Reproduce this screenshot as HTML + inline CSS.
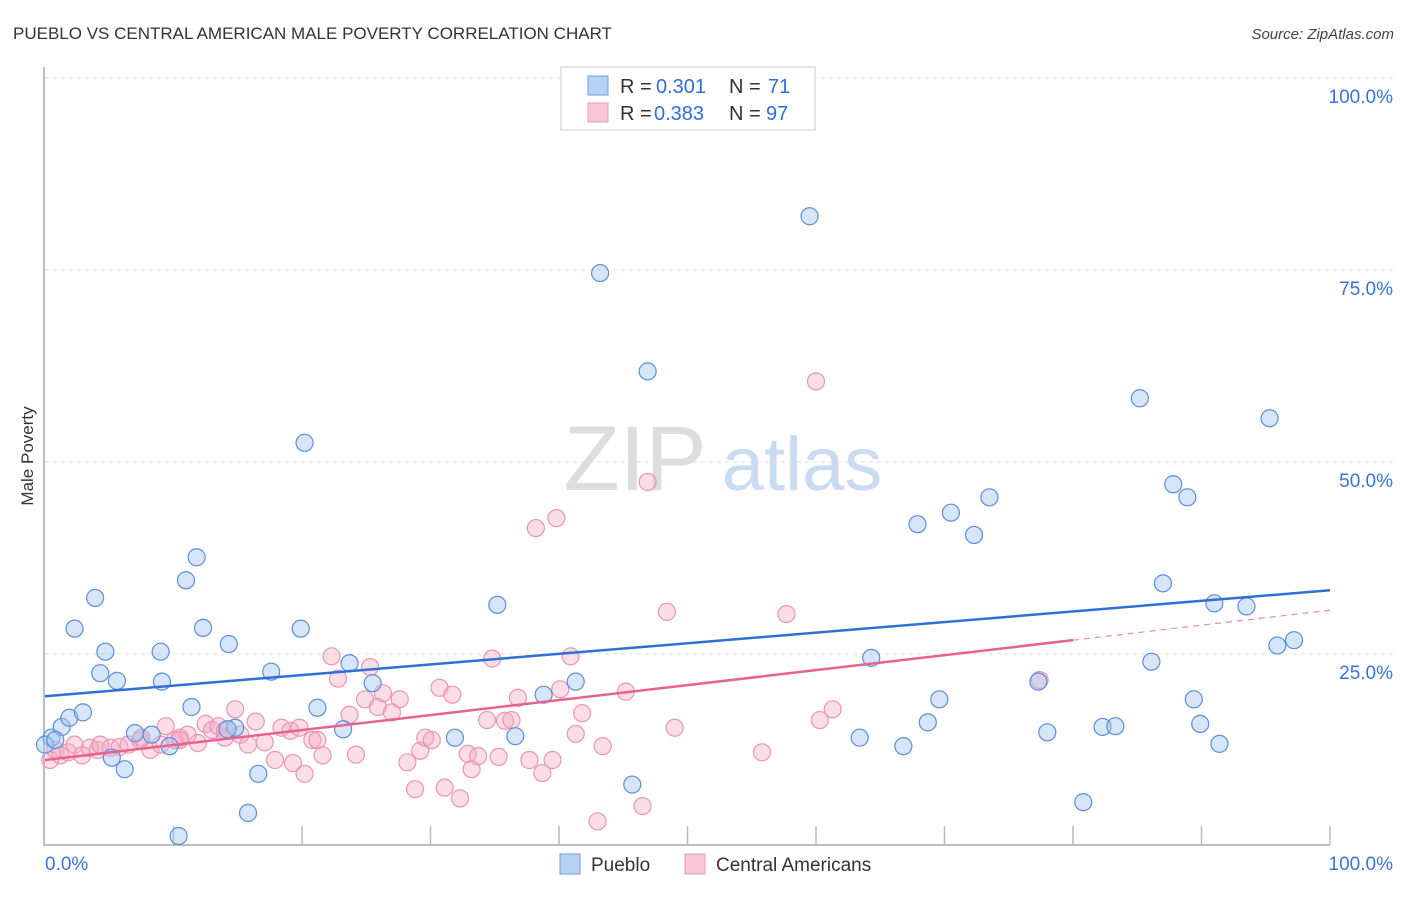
<!DOCTYPE html>
<html><head><meta charset="utf-8"><style>
body{margin:0;background:#fff;font-family:"Liberation Sans",sans-serif;}
svg text{font-family:"Liberation Sans",sans-serif;}
</style></head><body>
<svg id="chart" width="1406" height="892" xmlns="http://www.w3.org/2000/svg">
<text x="13" y="39" font-size="17" fill="#333">PUEBLO VS CENTRAL AMERICAN MALE POVERTY CORRELATION CHART</text>
<text x="1394" y="39" font-size="15" fill="#444" text-anchor="end" font-style="italic">Source: ZipAtlas.com</text>
<text transform="translate(33,456) rotate(-90)" font-size="17" fill="#333" text-anchor="middle">Male Poverty</text>
<g>
<text x="635" y="490" font-size="92" fill="#ddd" font-family="Liberation Serif,serif" text-anchor="middle">ZIP</text>
<text x="802" y="490" font-size="76" fill="#c9dbf3" text-anchor="middle">atlas</text>
</g>
<g id="grid"></g>
<g id="axes"></g>
<g id="pts"></g>
<g id="lines"></g>
<g>
<rect x="561" y="67" width="254" height="63" fill="#fff" stroke="#ccc"/>
<rect x="588" y="76" width="20" height="19" fill="#b8d2f4" stroke="#6f9be0"/>
<rect x="588" y="103" width="20" height="19" fill="#f9c6d6" stroke="#ee9ab6"/>
<text x="620" y="93" font-size="20" fill="#333">R =</text>
<text x="656" y="93" font-size="20" fill="#2f6fd6">0.301</text>
<text x="729" y="93" font-size="20" fill="#333">N =</text>
<text x="768" y="93" font-size="20" fill="#2f6fd6">71</text>
<text x="620" y="120" font-size="20" fill="#333">R =</text>
<text x="654" y="120" font-size="20" fill="#2f6fd6">0.383</text>
<text x="729" y="120" font-size="20" fill="#333">N =</text>
<text x="766" y="120" font-size="20" fill="#2f6fd6">97</text>
</g>
<g>
<rect x="560" y="854" width="20" height="20" fill="#b8d2f4" stroke="#6f9be0"/>
<text x="591" y="871" font-size="19" fill="#333">Pueblo</text>
<rect x="685" y="854" width="20" height="20" fill="#f9c6d6" stroke="#ee9ab6"/>
<text x="716" y="871" font-size="19" fill="#333">Central Americans</text>
</g>
</svg>
<script>
const xTicks=[0,10,20,30,40,50,60,70,80,90,100];
const yTicks=[25,50,75,100];
const blueX=[0.5,1.3,1.9,2.95,3.9,2.3,4.7,4.3,5.6,5.2,6.2,7.0,8.3,9.0,9.1,9.7,10.97,11.8,11.4,12.3,14.3,14.8,16.6,15.8,17.6,10.4,19.9,20.2,21.2,23.2,23.7,25.5,31.9,35.2,36.6,38.8,41.3,43.2,45.7,46.9,59.5,64.3,63.4,66.8,67.9,68.7,69.6,70.5,72.3,73.5,77.3,78.0,80.8,82.3,83.3,85.2,86.1,87.0,87.8,88.9,89.4,89.9,91.0,91.4,93.5,95.3,95.9,97.2,0.0,0.8,14.2];
const blueY=[14.1,15.5,16.7,17.4,32.3,28.3,25.3,22.5,21.5,11.5,10.0,14.7,14.5,25.3,21.4,13.0,34.6,37.6,18.1,28.4,26.3,15.4,9.4,4.3,22.7,1.3,28.3,52.5,18.0,15.2,23.8,21.2,14.1,31.4,14.3,19.7,21.4,74.6,8.0,61.8,82.0,24.5,14.1,13.0,41.9,16.1,19.1,43.4,40.5,45.4,21.4,14.8,5.7,15.5,15.6,58.3,24.0,34.2,47.1,45.4,19.1,15.9,31.6,13.3,31.2,55.7,26.1,26.8,13.2,13.8,15.2];
const pinkX=[0.4,0.8,1.2,1.8,2.3,2.9,3.5,4.1,5.1,5.8,6.5,7.4,8.2,9.0,9.4,10.1,10.5,11.1,11.9,12.5,13.0,13.5,14.0,14.8,15.2,15.8,16.4,17.1,17.9,18.4,19.1,19.3,19.8,20.2,20.8,21.2,21.6,22.3,22.8,23.7,24.2,24.9,25.3,25.9,26.3,27.0,27.6,28.2,28.8,29.2,29.6,30.1,30.7,31.1,31.7,32.3,32.9,33.2,33.7,34.4,34.8,35.3,35.8,36.3,36.8,37.7,38.2,38.7,39.5,39.8,40.1,40.9,41.3,41.8,43.0,43.4,45.2,46.5,46.9,48.4,49.0,55.8,57.7,60.0,60.3,61.3,77.4,14.0,10.5,7.5,4.3];
const pinkY=[11.2,12.5,11.8,12.2,13.2,11.8,12.8,12.5,12.8,12.9,13.2,13.8,12.5,13.2,15.6,13.8,14.1,14.5,13.4,15.9,15.1,15.6,14.1,17.8,14.5,13.2,16.2,13.5,11.2,15.4,15.0,10.8,15.4,9.4,13.8,13.8,11.8,24.7,21.8,17.1,11.9,19.1,23.3,18.1,19.9,17.4,19.1,10.9,7.4,12.4,14.1,13.8,20.6,7.6,19.7,6.2,12.0,10.0,11.7,16.4,24.4,11.6,16.3,16.4,19.3,11.2,41.4,9.5,11.2,42.7,20.4,24.7,14.6,17.3,3.2,13.0,20.1,5.2,47.4,30.5,15.4,12.2,30.2,60.5,16.4,17.8,21.6,15.0,13.8,14.1,13.2];
const blueTrend=[19.5,33.3];
const pinkTrend=[11.2,30.7];
const pinkSolidEnd=80;
const NS="http://www.w3.org/2000/svg";
const X=v=>45+v*12.85, Y=v=>846-v*7.68;
function mk(tag,attrs,parent){const e=document.createElementNS(NS,tag);for(const k in attrs)e.setAttribute(k,attrs[k]);parent.appendChild(e);return e;}
const grid=document.getElementById('grid'),axes=document.getElementById('axes'),pts=document.getElementById('pts'),lines=document.getElementById('lines');
yTicks.forEach(t=>{
 const l=mk('line',{x1:45,x2:1394,y1:Y(t),y2:Y(t),stroke:'#ddd','stroke-dasharray':'4,4'},grid);
 
 
 const tx=mk('text',{x:1393,y:Y(t)+25,'font-size':19,fill:'#3a74d6','text-anchor':'end'},axes);
 tx.textContent=t.toFixed(1)+'%';
 
 
});
const ax=mk('path',{d:'M44,67 V845 H1330',stroke:'#aaa','stroke-width':1.5,fill:'none'},axes);


xTicks.forEach(t=>{if(t===0)return;
 const l=mk('line',{x1:X(t),x2:X(t),y1:826,y2:845,stroke:'#bbb','stroke-width':1.5},axes);
 
 
});
[[0,'start',45],[100,'end',1393]].forEach(([v,a,x])=>{
 const tx=mk('text',{x:x,y:870,'font-size':19,fill:'#3a74d6','text-anchor':a},axes);
 tx.textContent=v.toFixed(1)+'%';
 
 
});
pinkX.forEach((v,i)=>{
 const c=mk('circle',{cx:X(v),cy:Y(pinkY[i]),r:8.5,fill:'rgba(246,170,196,0.4)',stroke:'#ec94b2','stroke-width':1.2},pts);
 
 
});
blueX.forEach((v,i)=>{
 const c=mk('circle',{cx:X(v),cy:Y(blueY[i]),r:8.5,fill:'rgba(165,198,240,0.45)',stroke:'#5b8edb','stroke-width':1.2},pts);
 
 
});
const bl=mk('line',{x1:X(0),y1:Y(blueTrend[0]),x2:X(100),y2:Y(blueTrend[1]),stroke:'#2f6fd6','stroke-width':2.5},lines);


const pe=pinkTrend[0]+(pinkTrend[1]-pinkTrend[0])*pinkSolidEnd/100;
const pl=mk('line',{x1:X(0),y1:Y(pinkTrend[0]),x2:X(pinkSolidEnd),y2:Y(pe),stroke:'#e8628e','stroke-width':2.5},lines);


const pd=mk('line',{x1:X(pinkSolidEnd),y1:Y(pe),x2:X(100),y2:Y(pinkTrend[1]),stroke:'#e88aa8','stroke-width':1.2,'stroke-dasharray':'6,5'},lines);


</script>
</body></html>
